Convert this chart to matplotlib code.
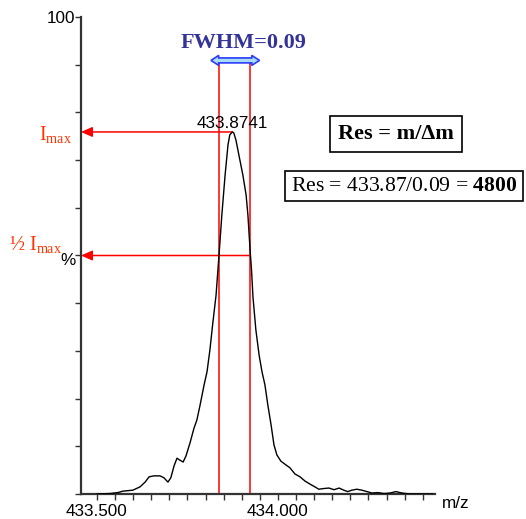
import matplotlib
matplotlib.use("Agg")
import matplotlib.pyplot as plt
from matplotlib.patches import Polygon

plt.rcParams['mathtext.fontset'] = 'custom'
plt.rcParams['mathtext.rm'] = 'Liberation Serif'
plt.rcParams['mathtext.bf'] = 'Liberation Serif:bold'
plt.rcParams['mathtext.it'] = 'Liberation Serif:italic'

# ---- data ----
mz = [433.500, 433.536, 433.558, 433.572, 433.599, 433.619, 433.633, 433.644,
      433.657, 433.674, 433.685, 433.696, 433.704, 433.713, 433.721, 433.729,
      433.738, 433.746, 433.757, 433.768, 433.776, 433.785, 433.796, 433.804,
      433.812, 433.820, 433.829, 433.837, 433.845, 433.854, 433.862, 433.867,
      433.874, 433.878, 433.884, 433.892, 433.903, 433.912, 433.917, 433.923,
      433.927, 433.931, 433.939, 433.948, 433.956, 433.964, 433.972, 433.981,
      433.989, 433.997, 434.008, 434.022, 434.033, 434.047, 434.061, 434.075,
      434.088, 434.102, 434.113, 434.127, 434.141, 434.155, 434.169, 434.182,
      434.193, 434.204, 434.218, 434.232, 434.246, 434.260, 434.276, 434.293,
      434.309, 434.326, 434.343, 434.365, 434.392, 434.428]
intensity = [0.0, 0.1, 0.3, 0.6, 0.8, 1.5, 2.5, 3.6,
             3.8, 3.8, 3.4, 2.5, 3.4, 5.9, 7.5, 7.1,
             6.7, 8.0, 10.7, 13.8, 15.5, 18.7, 22.9, 25.6,
             30.2, 35.8, 41.7, 49.9, 58.5, 66.9, 73.2, 75.3,
             75.9, 75.7, 74.2, 71.1, 66.9, 62.7, 58.5, 51.2,
             47.0, 41.3, 34.4, 29.1, 25.6, 22.9, 18.7, 14.5,
             10.3, 8.2, 6.9, 6.1, 5.5, 4.2, 3.6, 2.7,
             2.1, 1.5, 1.0, 1.15, 1.25, 0.9, 1.25, 0.8,
             0.5, 0.8, 1.0, 0.8, 0.5, 0.2, 0.3, 0.1,
             0.2, 0.5, 0.2, 0.0, 0.0, 0.0]

peak_mz = 433.8741
peak_int = 75.9
half_level = 50.0
fwhm_left = 433.837
fwhm_right = 433.923
fwhm_arrow_left = 433.815
fwhm_arrow_right = 433.949
fwhm_arrow_level = 90.9

xtick_major = [433.5, 434.0]
xtick_minor = [433.5 + 0.05 * i for i in range(19)]
yticks = [10 * i for i in range(11)]

xlim = (433.4558, 434.434)
ylim = (0, 100)

# ---- figure ----
fig = plt.figure(figsize=(5.26, 5.19), dpi=100)
ax = fig.add_axes([81 / 526, 25 / 519, (435 - 81) / 526, (494 - 17) / 519])
ax.set_xlim(*xlim)
ax.set_ylim(*ylim)

for s in ('top', 'right'):
    ax.spines[s].set_visible(False)
for s in ('left', 'bottom'):
    ax.spines[s].set_color('#333333')
    ax.spines[s].set_linewidth(1.6)

ax.set_xticks(xtick_minor, minor=True)
ax.set_xticks(xtick_major)
ax.set_xticklabels(['%.3f' % v for v in xtick_major])
ax.set_yticks(yticks)
ax.set_yticklabels(['100' if v == 100 else '' for v in yticks])
ax.tick_params(axis='x', which='both', direction='out', length=4, width=1,
               color='#333333', labelsize=12.3, pad=3)
ax.tick_params(axis='y', direction='out', length=4, width=1, color='#333333',
               labelsize=12.3, pad=0)
for lab in ax.get_xticklabels() + ax.get_yticklabels():
    lab.set_family('Liberation Sans')

# spectrum
ax.plot(mz, intensity, color='black', lw=1.0, zorder=3)

red = '#ff0000'
txt_red = '#ff3300'

# FWHM vertical lines
ax.vlines([fwhm_left, fwhm_right], 0, fwhm_arrow_level, colors=red, lw=1.1, zorder=2)

# Imax and half-max arrows
arrow_kw = dict(arrowstyle='-|>,head_length=0.45,head_width=0.2', color=red,
                lw=1.1, mutation_scale=15, shrinkA=0, shrinkB=0)
ax.annotate('', xy=(xlim[0], peak_int), xytext=(peak_mz, peak_int),
            arrowprops=arrow_kw, annotation_clip=False, zorder=2)
ax.annotate('', xy=(xlim[0], half_level), xytext=(fwhm_right, half_level),
            arrowprops=arrow_kw, annotation_clip=False, zorder=2)

# FWHM double arrow
hl = 0.0213
hh = 1.05
sh = 0.52
c = fwhm_arrow_level
poly = [(fwhm_arrow_left, c), (fwhm_arrow_left + hl, c + hh), (fwhm_arrow_left + hl, c + sh),
        (fwhm_arrow_right - hl, c + sh), (fwhm_arrow_right - hl, c + hh), (fwhm_arrow_right, c),
        (fwhm_arrow_right - hl, c - hh), (fwhm_arrow_right - hl, c - sh),
        (fwhm_arrow_left + hl, c - sh), (fwhm_arrow_left + hl, c - hh)]
ax.add_patch(Polygon(poly, closed=True, facecolor='#a8dcf2', edgecolor='#2a3cff',
                     lw=1.2, zorder=4, clip_on=False))

# texts
ax.text(433.906, 93.5, 'FWHM=0.09', ha='center', va='baseline', fontsize=16,
        family='Liberation Serif', weight='bold', color='#333399', clip_on=False)
ax.text(peak_mz, 76.7, '433.8741', ha='center', va='baseline', fontsize=12.3,
        family='Liberation Sans', color='black')
ax.text(434.326, 74.4, 'Res = m/\u0394m', ha='center', va='baseline', fontsize=16,
        family='Liberation Serif', weight='bold', clip_on=False,
        bbox=dict(boxstyle='square,pad=0.35', fc='white', ec='black', lw=1.2))
ax.text(434.348, 63.6, r'Res = 433.87/0.09 = $\mathbf{4800}$', ha='center', va='baseline',
        fontsize=15.6, family='Liberation Serif', clip_on=False,
        bbox=dict(boxstyle='square,pad=0.27', fc='white', ec='black', lw=1.2))

ax.text(433.430, 74.2, r'$\mathrm{I}_{\mathrm{max}}$', ha='right', va='baseline',
        fontsize=14.5, family='Liberation Serif', color=txt_red, clip_on=False)
ax.text(433.403, 51.2, r'½ $\mathrm{I}_{\mathrm{max}}$', ha='right', va='baseline',
        fontsize=14.5, family='Liberation Serif', color=txt_red, clip_on=False)
ax.text(433.442, 48.0, '%', ha='right', va='baseline', fontsize=12.3,
        family='Liberation Sans', color='black', clip_on=False)
ax.text(434.453, -2.9, 'm/z', ha='left', va='baseline', fontsize=12.3,
        family='Liberation Sans', color='black', clip_on=False)

fig.savefig('out.png', dpi=100)
